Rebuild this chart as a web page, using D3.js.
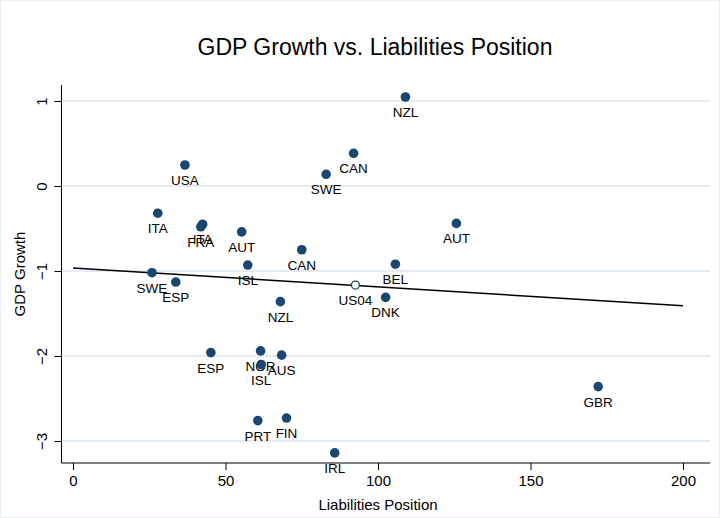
<!DOCTYPE html>
<html><head><meta charset="utf-8">
<script src="https://cdn.jsdelivr.net/npm/d3@7"></script>
<style>body{margin:0;background:#fff}text{font-family:"Liberation Sans",Arial,sans-serif;fill:#000}</style>
</head><body><div id="viz"></div>
<script>
var countries = ['NZL','USA','CAN','SWE','ITA','ITA','FRA','AUT','CAN','ISL','SWE','ESP','BEL','DNK','NZL','AUT','GBR','ESP','NOR','ISL','AUS','PRT','FIN','IRL'],
    liabilities = [109,36.7,92,83,27.8,42.5,41.9,55.3,75,57.3,25.9,33.7,105.7,102.5,68,125.7,172.2,45.2,61.5,61.7,68.4,60.6,70,85.8],
    growth = [1.047,0.247,0.385,0.138,-0.32,-0.45,-0.48,-0.54,-0.75,-0.93,-1.02,-1.13,-0.92,-1.31,-1.36,-0.44,-2.36,-1.96,-1.94,-2.10,-1.99,-2.76,-2.73,-3.14],
    usPoint = {label: 'US04', x: 92.6, y: -1.165},
    fitX = [0, 200],
    fitY = [-0.965, -1.41],
    xTicks = [0, 50, 100, 150, 200],
    yTicks = [1, 0, -1, -2, -3];

var W = 720, H = 518,
    svg = d3.select('#viz').append('svg').attr('width', W).attr('height', H),
    x = d3.scaleLinear().domain([0, 200]).range([73, 683]),
    y = d3.scaleLinear().domain([0, 1]).range([186, 101]),
    navy = '#1a476f',
    left = 61.5, bottom = 463;

svg.append('rect').attr('x', 0.5).attr('y', 0.5).attr('width', W - 1).attr('height', H - 1)
    .style('fill', '#fff').style('stroke', '#eaf0f6');

svg.append('text').attr('x', 375).attr('y', 55).attr('text-anchor', 'middle')
    .style('font-size', '23px').text('GDP Growth vs. Liabilities Position');

svg.append('g').selectAll('line').data(yTicks).enter().append('line')
    .attr('x1', left).attr('x2', 710).attr('y1', y).attr('y2', y)
    .style('stroke', '#dde5ef').style('stroke-width', 1.3);

var xAxis = svg.append('g').attr('transform', 'translate(0,' + bottom + ')')
    .call(d3.axisBottom(x).tickValues(xTicks).tickFormat(d3.format('d')).tickSize(7).tickPadding(5));
xAxis.select('.domain').attr('d', 'M' + left + ',0H710');
xAxis.selectAll('text').style('font-size', '15px').attr('font-family', null);

var yAxis = svg.append('g').attr('transform', 'translate(' + left + ',0)')
    .call(d3.axisLeft(y).tickValues(yTicks).tickFormat(d3.format('d')).tickSize(7).tickPadding(5));
yAxis.select('.domain').attr('d', 'M0,85V' + bottom);
yAxis.selectAll('text').style('font-size', '15px').attr('font-family', null)
    .attr('transform', 'rotate(-90,-20,0)')
    .attr('x', -20).attr('y', 0).attr('dy', '0.35em').attr('text-anchor', 'middle');

svg.append('text').attr('x', 378).attr('y', 510).attr('text-anchor', 'middle')
    .style('font-size', '15px').text('Liabilities Position');
svg.append('text').attr('transform', 'translate(25,274) rotate(-90)').attr('text-anchor', 'middle')
    .style('font-size', '15px').text('GDP Growth');

svg.append('line').attr('x1', x(fitX[0])).attr('y1', y(fitY[0]))
    .attr('x2', x(fitX[1])).attr('y2', y(fitY[1]))
    .style('stroke', '#000').style('stroke-width', 1.5);

var pts = svg.append('g');
countries.forEach(function (c, i) {
    pts.append('circle').attr('cx', x(liabilities[i])).attr('cy', y(growth[i])).attr('r', 4.8)
        .style('fill', navy);
    pts.append('text').attr('x', x(liabilities[i])).attr('y', y(growth[i]) + 20)
        .attr('text-anchor', 'middle').style('font-size', '13.5px').text(c);
});
pts.append('circle').attr('cx', x(usPoint.x)).attr('cy', y(usPoint.y)).attr('r', 4)
    .style('fill', '#fff').style('stroke', navy).style('stroke-width', 1.3);
pts.append('text').attr('x', x(usPoint.x)).attr('y', y(usPoint.y) + 20)
    .attr('text-anchor', 'middle').style('font-size', '13.5px').text(usPoint.label);
</script></body></html>
